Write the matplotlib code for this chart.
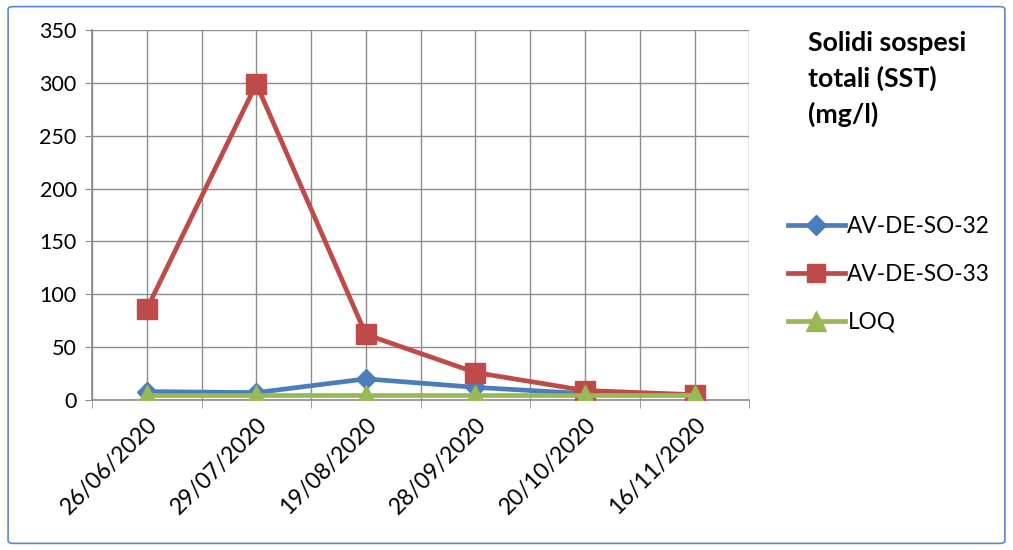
import matplotlib
matplotlib.use("Agg")
import matplotlib.pyplot as plt
from matplotlib.patches import FancyBboxPatch
from matplotlib.lines import Line2D
import numpy as np

plt.rcParams['font.family'] = ['Lato', 'DejaVu Sans']

dates = ["26/06/2020", "29/07/2020", "19/08/2020", "28/09/2020", "20/10/2020", "16/11/2020"]
so32 = [8, 7, 20, 12, 6, 5]
so33 = [86, 299, 62, 26, 9, 5]
loq = [5, 5, 5, 5, 5, 5]

blue = "#4A7EBB"
red = "#BE4B48"
green = "#98B954"
grid = "#8C8C8C"

fig = plt.figure(figsize=(10.13, 5.5), dpi=100)
ax = fig.add_axes([0.0908, 0.2727, 0.649, 0.6727])

x = np.arange(len(dates))
ax.plot(x, so32, color=blue, lw=3.4, marker="D", ms=10, label="AV-DE-SO-32", zorder=3)
ax.plot(x, so33, color=red, lw=3.4, marker="s", ms=14, label="AV-DE-SO-33", zorder=4)
ax.plot(x, loq, color=green, lw=3.4, marker="^", ms=15, label="LOQ", zorder=5)

ax.set_xlim(-0.5, len(dates) - 0.5)
ax.set_ylim(0, 350)
ax.set_yticks(np.arange(0, 351, 50))
ax.set_xticks(x)
ax.set_xticks(np.arange(-0.5, len(dates), 1.0), minor=True)
ax.set_xticklabels(dates, rotation=45, ha="right", rotation_mode="anchor", fontsize=16.5)
ax.tick_params(axis="y", labelsize=15.5, length=5, color=grid, pad=6)
ax.tick_params(axis="x", which="major", length=0, pad=10)
ax.tick_params(axis="x", which="minor", length=6, color=grid)

ax.grid(True, which="both", axis="x", color=grid, lw=1)
ax.grid(True, axis="y", color=grid, lw=1)
ax.set_axisbelow(True)
for s in ["top", "right"]:
    ax.spines[s].set_visible(False)
for s in ["left", "bottom"]:
    ax.spines[s].set_color(grid)
    ax.spines[s].set_linewidth(1.2)

fig.text(0.798, 0.943, "Solidi sospesi\ntotali (SST)\n(mg/l)", fontsize=19.3, fontweight="bold",
         va="top", ha="left", linespacing=1.5)

handles = [
    Line2D([], [], color=blue, lw=3.4, marker="D", ms=10),
    Line2D([], [], color=red, lw=3.4, marker="s", ms=13),
    Line2D([], [], color=green, lw=3.4, marker="^", ms=14),
]
fig.legend(handles, ["AV-DE-SO-32", "AV-DE-SO-33", "LOQ"], loc="upper left",
           bbox_to_anchor=(0.778, 0.607), frameon=False, fontsize=16.3,
           handlelength=2.5, handletextpad=0.12, labelspacing=1.18, borderaxespad=0,
           borderpad=0)

border = FancyBboxPatch((0.008, 0.012), 0.984, 0.976, boxstyle="round,pad=0,rounding_size=0.005",
                        transform=fig.transFigure, fill=False, edgecolor="#5B87C5", lw=1.2)
fig.patches.append(border)

fig.savefig("out.png", dpi=100)
